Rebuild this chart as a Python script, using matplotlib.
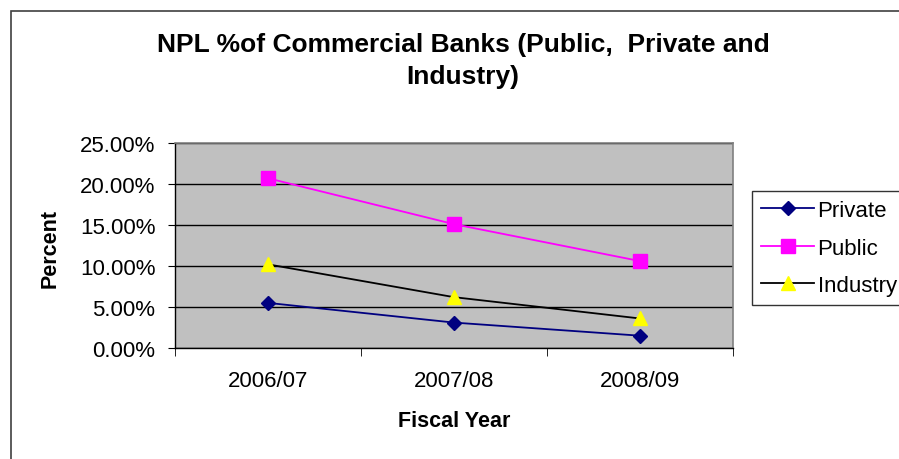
import matplotlib.pyplot as plt
from matplotlib.patches import Rectangle
from matplotlib.ticker import FuncFormatter, FixedLocator

plt.rcParams['font.family'] = ['Liberation Sans', 'DejaVu Sans']

years = ['2006/07', '2007/08', '2008/09']
private = [5.5, 3.1, 1.5]
public = [20.7, 15.1, 10.6]
industry = [10.2, 6.2, 3.6]

fig = plt.figure(figsize=(8.99, 4.6), dpi=100)

# chart area border
fig.patches.append(Rectangle((11/899, -0.1), 1.0, 1 - 12/460 + 0.1, transform=fig.transFigure,
                             fill=False, edgecolor='#404040', linewidth=1.2))

ax = fig.add_axes([175/899, 111/460, 558/899, 205/460])
ax.set_facecolor('#C0C0C0')

x = range(len(years))
ax.plot(x, private, color='#000080', marker='D', markersize=7, linewidth=1.3,
        markerfacecolor='#000080', markeredgecolor='#000080', label='Private', zorder=3)
ax.plot(x, public, color='#FF00FF', marker='s', markersize=10, linewidth=1.3,
        markerfacecolor='#FF00FF', markeredgecolor='#FF00FF', label='Public', zorder=3)
ax.plot(x, industry, color='black', marker='^', markersize=10, linewidth=1.3,
        markerfacecolor='#FFFF00', markeredgecolor='#FFFF00', label='Industry', zorder=3)

ax.set_xlim(-0.5, 2.5)
ax.set_ylim(0, 25)
ax.set_yticks([0, 5, 10, 15, 20, 25])
ax.yaxis.set_major_formatter(FuncFormatter(lambda v, p: '%.2f%%' % v))
ax.set_xticks(list(x))
ax.set_xticklabels(years)
ax.xaxis.set_minor_locator(FixedLocator([-0.5, 0.5, 1.5, 2.5]))
ax.tick_params(axis='x', which='major', length=0, pad=16, labelsize=16)
ax.tick_params(axis='x', which='minor', length=6, direction='out', color='black')
ax.tick_params(axis='y', length=5, direction='out', labelsize=16, pad=9)

ax.grid(axis='y', color='black', linewidth=1.0)
ax.set_axisbelow(True)

for side in ['top', 'right']:
    ax.spines[side].set_color('#808080')
    ax.spines[side].set_linewidth(1.2)
for side in ['left', 'bottom']:
    ax.spines[side].set_color('black')
    ax.spines[side].set_linewidth(1.0)

fig.text(454/899, 1 - 422/460, 'Fiscal Year', ha='center', va='center',
         fontsize=15.5, fontweight='bold')
fig.text(50/899, 1 - 248/460, 'Percent', ha='center', va='center', rotation=90,
         fontsize=15.5, fontweight='bold')

fig.text(463/899, 1 - 45/460, 'NPL %of Commercial Banks (Public,  Private and',
         ha='center', va='center', fontsize=19, fontweight='bold')
fig.text(463/899, 1 - 77/460, 'Industry)',
         ha='center', va='center', fontsize=19, fontweight='bold')

leg = fig.legend(loc='upper left', bbox_to_anchor=(752/899, 1 - 192/460),
                 fontsize=16, frameon=True, fancybox=False, shadow=False,
                 handlelength=2.4, borderpad=0.4, labelspacing=0.75,
                 handletextpad=0.15, borderaxespad=0)
leg.get_frame().set_edgecolor('black')
leg.get_frame().set_linewidth(1.0)

fig.savefig('out.png', dpi=100)
